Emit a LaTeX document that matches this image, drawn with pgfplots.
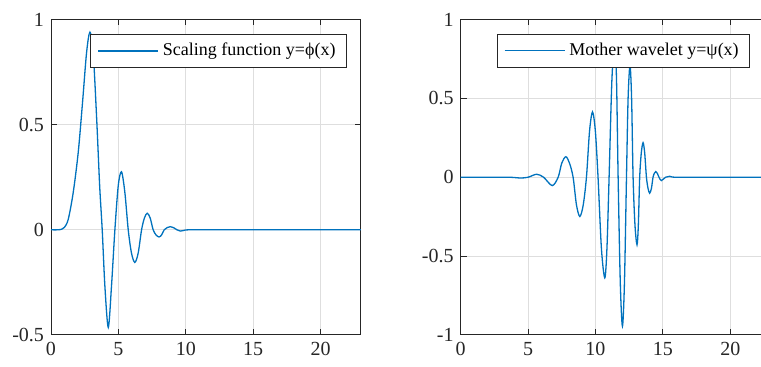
\documentclass[border=0pt]{standalone}
\usepackage{fontspec}
\setmainfont{Liberation Serif}
\usepackage{pgfplots}
\pgfplotsset{compat=1.18}
\definecolor{mblue}{rgb}{0,0.447,0.741}
\definecolor{axgray}{rgb}{0.15,0.15,0.15}
\pgfplotsset{
  mystyle/.style={
    scale only axis,
    width=155pt, height=157.75pt,
    anchor=south west,
    xmin=0, xmax=23,
    xtick={0,5,10,15,20},
    grid=major,
    major grid style={color=black!13, line width=0.5pt},
    axis line style={color=axgray, line width=0.5pt},
    tick style={color=axgray, line width=0.5pt},
    major tick length=3pt,
    tick align=inside,
    /pgf/number format/assume math mode=true,
    ticklabel style={font=\fontsize{10}{12}\selectfont, text=axgray},
    legend cell align=left,
    legend style={font=\fontsize{9}{11}\selectfont, draw=axgray, fill=white, line width=0.5pt,
      inner xsep=3.5pt, inner ysep=2.3pt},
    legend image code/.code={\draw[#1] (0pt,0pt) -- (30pt,0pt);},
  }
}
\begin{document}
\begin{tikzpicture}
\useasboundingbox (0,0) rectangle (380.5pt,183.5pt);
\clip (0,0) rectangle (380.5pt,183.5pt);
\begin{axis}[mystyle, at={(25.5pt,16pt)},
  ymin=-0.5, ymax=1, ytick={-0.5,0,0.5,1},
  yticklabels={-0.5,0,0.5,1},
  legend style={at={(0.955,0.954)}, anchor=north east}]
\addplot[mblue, line width=0.65pt, smooth] coordinates {
(0,0) (0.5,0) (0.8,0.003) (1.0,0.012) (1.28,0.05) (1.65,0.178) (2.02,0.368)
(2.34,0.606) (2.64,0.843) (2.89,0.94) (3.13,0.843) (3.39,0.526) (3.61,0.21)
(3.8,0) (4.0,-0.27) (4.25,-0.464) (4.49,-0.266) (4.74,0) (4.99,0.21)
(5.23,0.276) (5.48,0.178) (5.73,0) (5.97,-0.11) (6.22,-0.155) (6.47,-0.11)
(6.72,0) (6.93,0.056) (7.14,0.079) (7.36,0.056) (7.58,0) (7.8,-0.025)
(8.02,-0.034) (8.21,-0.024) (8.4,0) (8.63,0.011) (8.86,0.015) (9.1,0.01)
(9.35,0) (9.6,-0.006) (9.85,-0.003) (10.2,0) (12,0) (23,0)};
\addlegendentry{Scaling function y=ϕ(x)}
\end{axis}
\begin{axis}[mystyle, at={(230.35pt,16pt)},
  ymin=-1, ymax=1, ytick={-1,-0.5,0,0.5,1},
  yticklabels={-1,-0.5,0,0.5,1},
  legend style={at={(0.934,0.954)}, anchor=north east}]
\addplot[mblue, line width=0.65pt, smooth] coordinates {
(0,0) (3.5,0) (4.4,-0.005) (5.0,0) (5.63,0.019) (6.15,0) (6.79,-0.053)
(7.23,0) (7.5,0.09) (7.8,0.13) (8.07,0.09) (8.34,0) (8.59,-0.176)
(8.84,-0.249) (9.09,-0.176) (9.33,0) (9.56,0.293) (9.78,0.414) (9.99,0.293)
(10.19,0) (10.44,-0.451) (10.69,-0.638) (10.85,-0.451) (11.01,0) (11.22,0.62)
(11.43,0.86) (11.56,0.62) (11.68,0) (11.84,-0.667) (12.0,-0.944) (12.15,-0.667)
(12.3,0) (12.42,0.5) (12.56,0.709) (12.68,0.5) (12.79,0) (12.93,-0.303)
(13.08,-0.428) (13.18,-0.303) (13.28,0) (13.4,0.155) (13.53,0.219) (13.65,0.155)
(13.78,0) (13.9,-0.071) (14.02,-0.101) (14.15,-0.071) (14.27,0) (14.37,0.025)
(14.47,0.036) (14.59,0.025) (14.71,0) (14.89,-0.021) (15.2,0) (15.5,0.006)
(15.9,0) (18,0) (23,0)};
\addlegendentry{Mother wavelet y=ψ(x)}
\end{axis}
\end{tikzpicture}
\end{document}
